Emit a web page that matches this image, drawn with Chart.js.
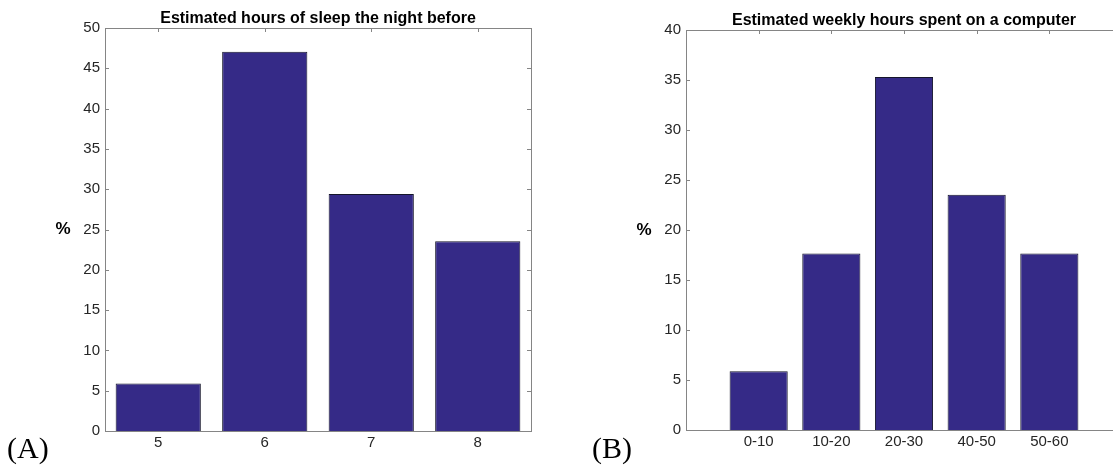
<!DOCTYPE html>
<html>
<head>
<meta charset="utf-8">
<script src="https://cdn.jsdelivr.net/npm/chart.js@4/dist/chart.umd.min.js"></script>
<style>
  html, body { margin: 0; padding: 0; background: #fff; overflow: hidden; }
  #page { position: relative; width: 1113px; height: 472px; overflow: hidden; }
  .panel { position: absolute; top: 0; }
  .tag { position: absolute; font-family: "Liberation Serif", serif; font-size: 30px; color: #000; line-height: 30px; }
</style>
</head>
<body>
<div id="page">
  <div class="panel" style="left:0px"><canvas id="sleepChart" width="560" height="472"></canvas></div>
  <div class="panel" style="left:580px"><canvas id="compChart" width="570" height="472"></canvas></div>
  <div class="tag" style="left:7px; top:433px">(A)</div>
  <div class="tag" style="left:592px; top:433px">(B)</div>
</div>
<script>
// data (percent of respondents)
const sleepHours = ['5', '6', '7', '8'];
const sleepPct = [5.88, 47.06, 29.41, 23.53];
const sleepMax = 50;

const compHours = ['0-10', '10-20', '20-30', '40-50', '50-60'];
const compPct = [5.88, 17.65, 35.29, 23.53, 17.65];
const compMax = 40;

const tickStep = 5;

const barColor = '#352a87';
const axisGray = '#858585';
const textGray = '#262626';
const tickLen = 4;

// matlab-like box with inward ticks, plus title and "%" label
const matlabBox = {
  id: 'matlabBox',
  beforeDatasetsDraw(chart) {
    const ctx = chart.ctx;
    const a = chart.chartArea;
    const x = chart.scales.x;
    const y = chart.scales.y;
    ctx.save();
    ctx.strokeStyle = axisGray;
    ctx.lineWidth = 1;
    ctx.beginPath();
    x.ticks.forEach((t, i) => {
      if (!t.label) return;
      const px = Math.round(x.getPixelForTick(i)) + 0.5;
      ctx.moveTo(px, a.top); ctx.lineTo(px, a.top + tickLen);
      ctx.moveTo(px, a.bottom); ctx.lineTo(px, a.bottom - tickLen);
    });
    y.ticks.forEach((t, i) => {
      const py = Math.round(y.getPixelForTick(i)) + 0.5;
      ctx.moveTo(a.left, py); ctx.lineTo(a.left + tickLen, py);
      ctx.moveTo(a.right, py); ctx.lineTo(a.right - tickLen, py);
    });
    ctx.stroke();
    ctx.strokeRect(Math.round(a.left) + 0.5, Math.round(a.top) + 0.5,
      Math.round(a.right - a.left), Math.round(a.bottom - a.top));
    ctx.restore();
  },
  afterDraw(chart, args, opts) {
    const ctx = chart.ctx;
    const a = chart.chartArea;
    ctx.save();
    ctx.fillStyle = '#000';
    ctx.textAlign = 'center';
    ctx.textBaseline = 'alphabetic';
    ctx.font = 'bold 16px "Liberation Sans", Arial, sans-serif';
    ctx.fillText(opts.title, (a.left + a.right) / 2, a.top - 5);
    ctx.font = 'bold 17px "Liberation Sans", Arial, sans-serif';
    ctx.textBaseline = 'middle';
    ctx.fillText('%', a.left - 42, (a.top + a.bottom) / 2);
    ctx.restore();
  }
};

function makePanel(canvasId, labels, values, yMax, title, box) {
  return new Chart(document.getElementById(canvasId), {
    type: 'bar',
    data: {
      labels: labels,
      datasets: [{
        data: values,
        backgroundColor: barColor,
        borderColor: '#15152a',
        borderWidth: 1,
        categoryPercentage: 0.8,
        barPercentage: 1.0
      }]
    },
    options: {
      responsive: false,
      animation: false,
      events: [],
      layout: { padding: { top: box.top, right: box.right, left: 0, bottom: 0 } },
      plugins: {
        legend: { display: false },
        tooltip: { enabled: false },
        matlabBox: { title: title }
      },
      scales: {
        x: {
          offset: box.offset,
          grid: { display: false, drawTicks: false },
          border: { display: false },
          ticks: {
            color: textGray,
            font: { family: '"Liberation Sans", Arial, sans-serif', size: 15 },
            padding: 3,
            autoSkip: false,
            maxRotation: 0
          },
          afterFit: s => { s.height = box.xHeight; }
        },
        y: {
          min: 0,
          max: yMax,
          grid: { display: false, drawTicks: false },
          border: { display: false },
          ticks: {
            stepSize: tickStep,
            color: textGray,
            font: { family: '"Liberation Sans", Arial, sans-serif', size: 15 },
            padding: 5
          },
          afterFit: s => { s.width = box.yWidth; }
        }
      }
    },
    plugins: [matlabBox]
  });
}

// sleep panel: categories at 5..8 with half a slot on each side
makePanel('sleepChart', sleepHours, sleepPct, sleepMax,
  'Estimated hours of sleep the night before',
  { top: 28, right: 29, xHeight: 41, yWidth: 105, offset: true });

// computer panel: x limits one full slot past the first and last category
const compLabels = [''].concat(compHours, ['']);
const compValues = [null].concat(compPct, [null]);
makePanel('compChart', compLabels, compValues, compMax,
  'Estimated weekly hours spent on a computer',
  { top: 30, right: 28, xHeight: 42, yWidth: 106, offset: false });
</script>
</body>
</html>
